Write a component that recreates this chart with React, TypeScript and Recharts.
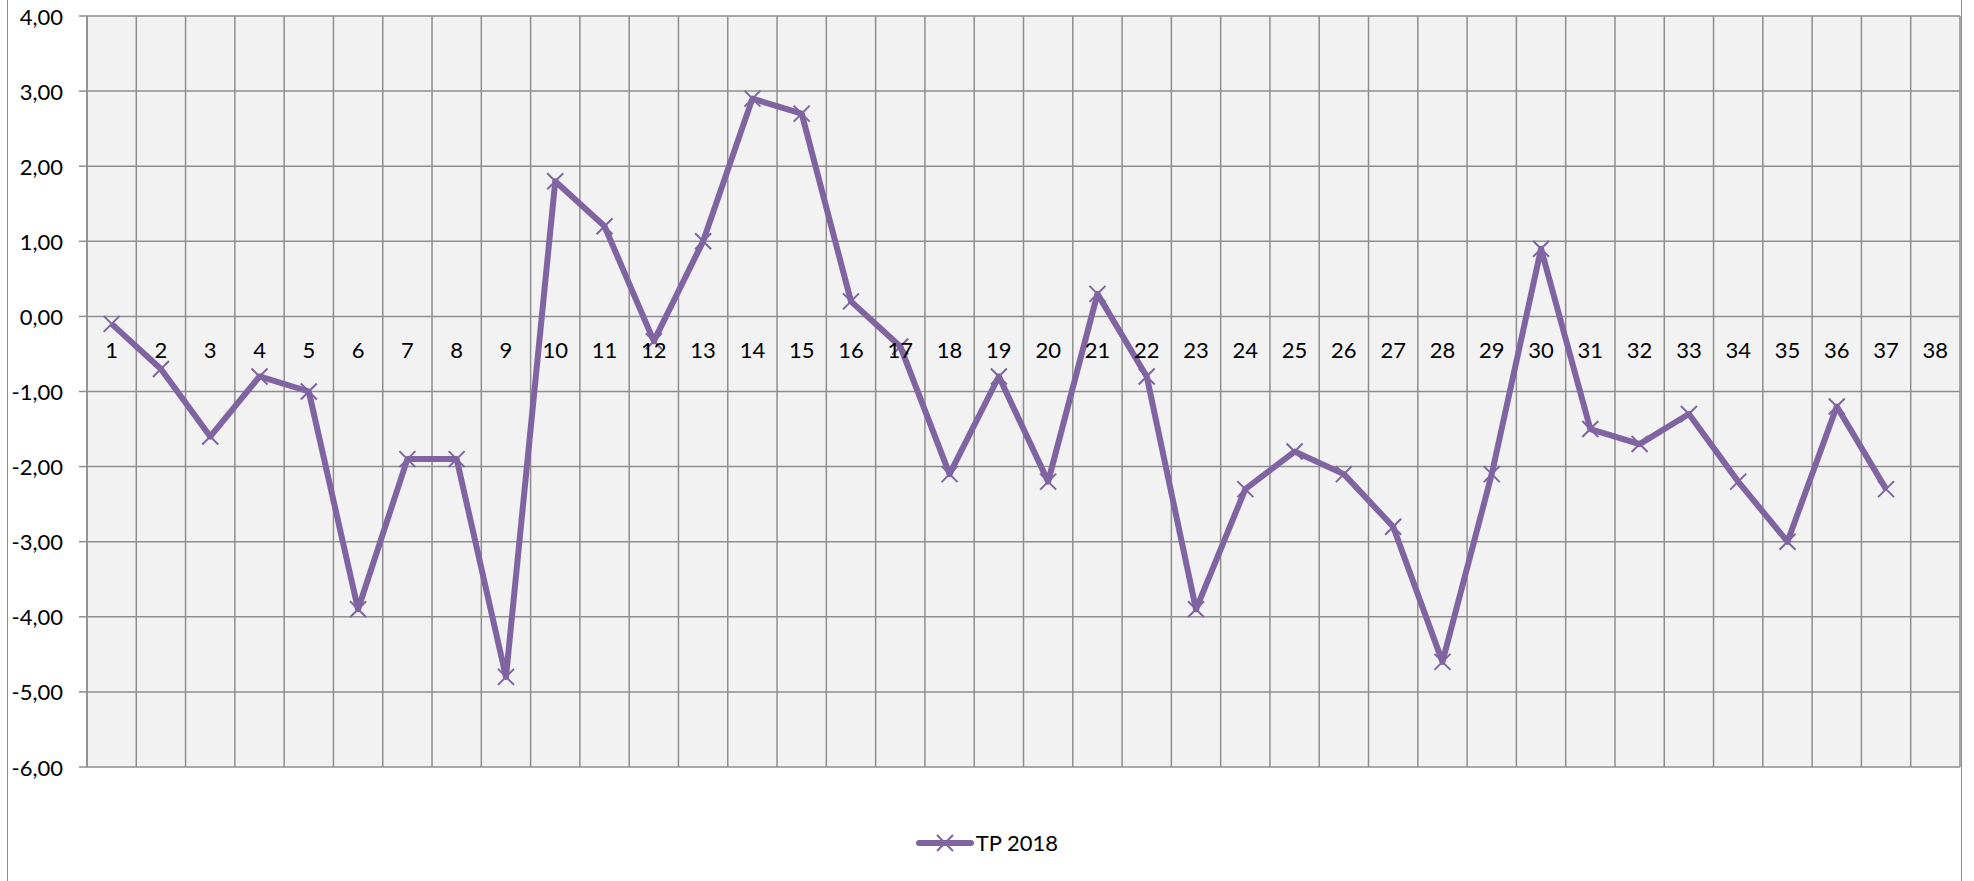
import React from 'react';
import { LineChart, Line, XAxis, YAxis, CartesianGrid, Legend } from 'recharts';

// categories 1..38 along the axis that crosses at zero
const categories = [
  '1', '2', '3', '4', '5', '6', '7', '8', '9', '10',
  '11', '12', '13', '14', '15', '16', '17', '18', '19', '20',
  '21', '22', '23', '24', '25', '26', '27', '28', '29', '30',
  '31', '32', '33', '34', '35', '36', '37', '38',
];

const tp2018: Array<number | null> = [
  -0.1, -0.7, -1.6, -0.8, -1.0, -3.9, -1.9, -1.9, -4.8, 1.8,
  1.2, -0.33, 1.0, 2.9, 2.7, 0.2, -0.4, -2.1, -0.8, -2.2,
  0.3, -0.8, -3.9, -2.3, -1.8, -2.1, -2.8, -4.6, -2.1, 0.9,
  -1.5, -1.7, -1.3, -2.2, -3.0, -1.2, -2.3, null,
];

const yTicks = [-6, -5, -4, -3, -2, -1, 0, 1, 2, 3, 4];
const seriesName = 'TP 2018';

const data = categories.map((name, i) => ({ name, tp: tp2018[i] }));

const W = 1974;
const H = 881;
const X_AXIS_H = 1;
const MARGIN = { top: 16, right: 14, bottom: 114 - X_AXIS_H, left: 0 };
const Y_AXIS_W = 87;
const PURPLE = '#8064a2';
const GRID = '#8e8e8e';
const FONT = 'Lato, "Open Sans", sans-serif';
const FONT_SIZE = 22;

const Y_MIN = yTicks[0];
const Y_MAX = yTicks[yTicks.length - 1];
const plotBottom = H - 114;
const plotH = plotBottom - MARGIN.top;
// the category axis sits on the zero line, labels just below it
const zeroY = MARGIN.top + (plotH * (Y_MAX - 0)) / (Y_MAX - Y_MIN);

const fmt = (v: number) => v.toFixed(2).replace('.', ',');

function CrossDot(props: any) {
  const { cx, cy, payload } = props;
  if (cx == null || cy == null || payload?.tp == null) return null;
  const s = 8;
  return (
    <path
      key={`dot-${props.index}`}
      d={`M${cx - s},${cy - s}L${cx + s},${cy + s}M${cx - s},${cy + s}L${cx + s},${cy - s}`}
      stroke={PURPLE}
      strokeWidth={2}
      fill="none"
    />
  );
}

function CategoryTick(props: any) {
  const { x, payload } = props;
  return (
    <text
      x={x}
      y={zeroY + 33}
      textAnchor="middle"
      dominantBaseline="central"
      fontSize={FONT_SIZE}
      fontFamily={FONT}
      fill="#000"
    >
      {payload.value}
    </text>
  );
}

function ValueTick(props: any) {
  const { y, payload } = props;
  return (
    <text
      x={Y_AXIS_W - 24}
      y={y}
      textAnchor="end"
      dominantBaseline="central"
      fontSize={FONT_SIZE}
      fontFamily={FONT}
      fill="#000"
    >
      {fmt(payload.value)}
    </text>
  );
}

function LegendContent() {
  return (
    <div
      style={{
        display: 'flex',
        justifyContent: 'center',
        alignItems: 'center',
        fontFamily: FONT,
        fontSize: FONT_SIZE,
        color: '#000',
      }}
    >
      <svg width={58} height={22} style={{ marginRight: 2 }}>
        <line x1={3} y1={11} x2={55} y2={11} stroke={PURPLE} strokeWidth={6} strokeLinecap="round" />
        <path d="M21,3L37,19M21,19L37,3" stroke={PURPLE} strokeWidth={2} fill="none" />
      </svg>
      <span>{seriesName}</span>
    </div>
  );
}

export default function App() {
  return (
    <div style={{ position: 'absolute', left: 0, top: 0, width: W, height: H, background: '#fff' }}>
      <div
        style={{
          position: 'absolute',
          left: 7,
          top: 0,
          width: 1955,
          height: H,
          borderLeft: `1.5px solid ${GRID}`,
          borderRight: `1.5px solid ${GRID}`,
          boxSizing: 'border-box',
        }}
      />
      <LineChart width={W} height={H} data={data} margin={MARGIN} style={{ position: 'absolute', left: 0, top: 0 }}>
        <CartesianGrid
          fill="#f2f2f2"
          stroke={GRID}
          strokeWidth={1.5}
          verticalCoordinatesGenerator={({ offset }: any) =>
            categories.concat(['']).map((_, i) => offset.left + (i * offset.width) / categories.length)
          }
        />
        <XAxis
          dataKey="name"
          type="category"
          scale="band"
          height={X_AXIS_H}
          axisLine={false}
          tickLine={false}
          interval={0}
          tick={<CategoryTick />}
        />
        <YAxis
          type="number"
          domain={[Y_MIN, Y_MAX]}
          ticks={yTicks}
          interval={0}
          width={Y_AXIS_W}
          tickSize={8}
          axisLine={{ stroke: GRID, strokeWidth: 1.5 }}
          tickLine={{ stroke: GRID, strokeWidth: 1.5 }}
          tick={<ValueTick />}
        />
        <Legend
          layout="horizontal"
          verticalAlign="middle"
          align="center"
          wrapperStyle={{ top: 829, left: 0, width: W }}
          content={() => <LegendContent />}
        />
        <Line
          type="linear"
          dataKey="tp"
          name={seriesName}
          stroke={PURPLE}
          strokeWidth={6}
          strokeLinejoin="round"
          dot={<CrossDot />}
          activeDot={false}
          connectNulls={false}
          isAnimationActive={false}
        />
      </LineChart>
    </div>
  );
}
